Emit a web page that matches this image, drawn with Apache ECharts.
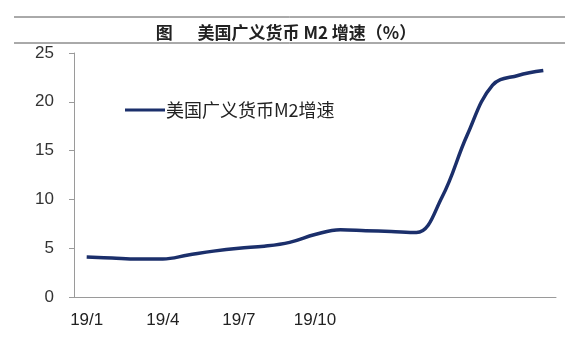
<!DOCTYPE html>
<html>
<head>
<meta charset="utf-8">
<script src="https://cdn.jsdelivr.net/npm/echarts@6/dist/echarts.min.js"></script>
<style>
html,body{margin:0;padding:0;background:#fff;}
#c{width:572px;height:361px;}
</style>
</head>
<body>
<div id="c"></div>
<script>
const categories = ["19/1","19/2","19/3","19/4","19/5","19/6","19/7","19/8","19/9","19/10","19/11","19/12","20/1","20/2","20/3","20/4","20/5","20/6","20/7"];
const shownLabels = ["19/1","19/4","19/7","19/10"];
const m2Growth = [4.1, 4.0, 3.9, 3.9, 4.3, 4.7, 5.0, 5.2, 5.6, 6.4, 6.9, 6.8, 6.7, 6.6, 10.2, 16.6, 21.7, 22.7, 23.2];
const seriesName = "美国广义货币M2增速";
const titleText = "图　  美国广义货币 M2 增速（%）";

const chart = echarts.init(document.getElementById('c'), null, {renderer: 'canvas'});
chart.setOption({
  animation: false,
  backgroundColor: '#ffffff',
  title: {
    text: titleText,
    left: 'center',
    top: 19,
    textStyle: {fontFamily: '"Noto Sans CJK SC", sans-serif', fontSize: 17, fontWeight: 'bold', color: '#222'}
  },
  graphic: [
    {type: 'line', shape: {x1: 14, y1: 17, x2: 565, y2: 17}, style: {stroke: '#555', lineWidth: 1}},
    {type: 'line', shape: {x1: 14, y1: 43, x2: 565, y2: 43}, style: {stroke: '#555', lineWidth: 1}}
  ],
  legend: {
    left: 120,
    top: 96,
    itemWidth: 40,
    itemHeight: 3,
    itemGap: 4,
    icon: 'rect',
    data: [seriesName],
    textStyle: {fontFamily: '"Noto Sans CJK SC", sans-serif', fontSize: 18, color: '#222', padding: [0,0,0,-4]}
  },
  grid: {left: 74, right: 16, top: 53, bottom: 64},
  xAxis: {
    type: 'category',
    data: categories,
    boundaryGap: true,
    axisLine: {lineStyle: {color: '#9a9a9a', width: 1}},
    axisTick: {interval: 2, length: 5, lineStyle: {color: '#9a9a9a'}},
    axisLabel: {
      interval: 2,
      margin: 15,
      fontFamily: '"Liberation Sans", Arial, sans-serif',
      fontSize: 17,
      color: '#222',
      formatter: v => shownLabels.includes(v) ? v : ''
    },
    splitLine: {show: false}
  },
  yAxis: {
    type: 'value',
    min: 0, max: 25, interval: 5,
    axisLine: {show: true, lineStyle: {color: '#9a9a9a', width: 1}},
    axisTick: {show: true, length: 5, lineStyle: {color: '#9a9a9a'}},
    axisLabel: {
      margin: 20,
      fontFamily: '"Liberation Sans", Arial, sans-serif',
      fontSize: 17,
      color: '#333'
    },
    splitLine: {show: false}
  },
  series: [{
    name: seriesName,
    type: 'line',
    data: m2Growth,
    smooth: 0.4,
    symbol: 'none',
    lineStyle: {color: '#1b2f6b', width: 3.5},
    itemStyle: {color: '#1b2f6b'}
  }]
});
</script>
</body>
</html>
